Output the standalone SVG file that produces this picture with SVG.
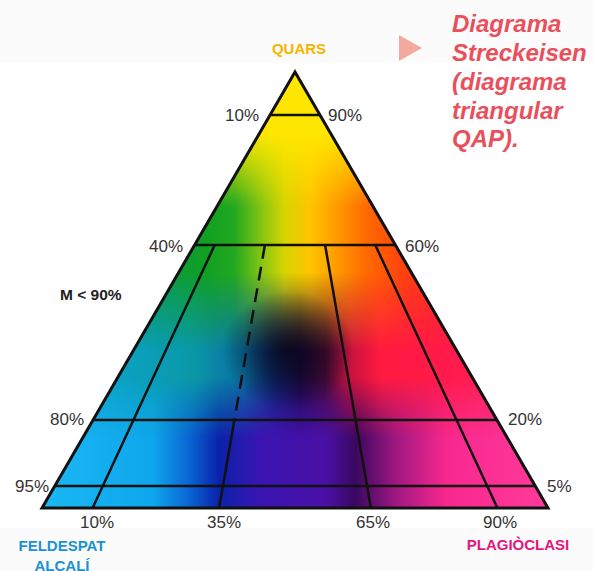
<svg xmlns="http://www.w3.org/2000/svg" width="593" height="571" viewBox="0 0 593 571">
<defs>
<style>
.pct{font-family:"Liberation Sans",Arial,sans-serif;font-size:17px;fill:#333}
.vert{font-family:"Liberation Sans",Arial,sans-serif;font-size:15px;font-weight:bold}
.grid{stroke:#111;stroke-width:2.5;fill:none}
.title{font-family:"Liberation Sans",Arial,sans-serif;font-size:24px;font-weight:bold;font-style:italic;fill:#e9505c}
</style>
<clipPath id="tri"><path d="M295,72 L548,508 L42,508 Z"/></clipPath>
<linearGradient id="gBot" x1="42" y1="0" x2="548" y2="0" gradientUnits="userSpaceOnUse">
<stop offset="0" stop-color="#1ab8f4"/>
<stop offset="0.22" stop-color="#0ea6ec"/>
<stop offset="0.29" stop-color="#0a66d4"/>
<stop offset="0.35" stop-color="#0a22aa"/>
<stop offset="0.43" stop-color="#3a14b2"/>
<stop offset="0.56" stop-color="#4a10a6"/>
<stop offset="0.62" stop-color="#3a0860"/>
<stop offset="0.7" stop-color="#a01882"/>
<stop offset="0.8" stop-color="#f8288e"/>
<stop offset="1" stop-color="#ff3a9a"/>
</linearGradient>
<linearGradient id="gMid" x1="42" y1="0" x2="548" y2="0" gradientUnits="userSpaceOnUse">
<stop offset="0.12" stop-color="#0aa4c8"/>
<stop offset="0.3" stop-color="#0a98a8"/>
<stop offset="0.4" stop-color="#0a6ea0"/>
<stop offset="0.46" stop-color="#0a2a78"/>
<stop offset="0.51" stop-color="#1a0a48"/>
<stop offset="0.56" stop-color="#4a0a38"/>
<stop offset="0.61" stop-color="#c81240"/>
<stop offset="0.67" stop-color="#ff1a40"/>
<stop offset="0.8" stop-color="#ff1a4a"/>
<stop offset="1" stop-color="#ff2a60"/>
</linearGradient>
<linearGradient id="gUp" x1="42" y1="0" x2="548" y2="0" gradientUnits="userSpaceOnUse">
<stop offset="0.24" stop-color="#0a9a40"/>
<stop offset="0.33" stop-color="#12a020"/>
<stop offset="0.38" stop-color="#22a820"/>
<stop offset="0.44" stop-color="#90c810"/>
<stop offset="0.48" stop-color="#d8d400"/>
<stop offset="0.53" stop-color="#ffc400"/>
<stop offset="0.58" stop-color="#ff9c00"/>
<stop offset="0.64" stop-color="#ff6a00"/>
<stop offset="0.72" stop-color="#ff4010"/>
<stop offset="0.8" stop-color="#ff2a20"/>
</linearGradient>
<linearGradient id="vUp" x1="0" y1="72" x2="0" y2="508" gradientUnits="userSpaceOnUse">
<stop offset="0.46" stop-color="#fff"/>
<stop offset="0.64" stop-color="#000"/>
</linearGradient>
<linearGradient id="vMid" x1="0" y1="72" x2="0" y2="508" gradientUnits="userSpaceOnUse">
<stop offset="0.7" stop-color="#fff"/>
<stop offset="0.84" stop-color="#000"/>
</linearGradient>
<linearGradient id="vTop" x1="0" y1="72" x2="0" y2="508" gradientUnits="userSpaceOnUse">
<stop offset="0.14" stop-color="#fff"/>
<stop offset="0.31" stop-color="#000"/>
</linearGradient>
<mask id="mUp" maskUnits="userSpaceOnUse" x="0" y="0" width="593" height="571"><rect width="593" height="571" fill="url(#vUp)"/></mask>
<mask id="mMid" maskUnits="userSpaceOnUse" x="0" y="0" width="593" height="571"><rect width="593" height="571" fill="url(#vMid)"/></mask>
<mask id="mTop" maskUnits="userSpaceOnUse" x="0" y="0" width="593" height="571"><rect width="593" height="571" fill="url(#vTop)"/></mask>
<radialGradient id="gDark" cx="288" cy="350" r="66" gradientUnits="userSpaceOnUse" gradientTransform="translate(288 350) scale(1 0.9) translate(-288 -350)">
<stop offset="0" stop-color="#08040e" stop-opacity="0.78"/>
<stop offset="0.45" stop-color="#08040e" stop-opacity="0.45"/>
<stop offset="1" stop-color="#08040e" stop-opacity="0"/>
</radialGradient>
</defs>
<rect width="593" height="571" fill="#fbfbfb"/>
<rect x="0" y="62" width="593" height="466" fill="#ffffff"/>

<g id="fill" clip-path="url(#tri)">
<rect x="40" y="70" width="510" height="440" fill="url(#gBot)"/>
<rect x="40" y="70" width="510" height="440" fill="url(#gMid)" mask="url(#mMid)"/>
<rect x="40" y="70" width="510" height="440" fill="url(#gUp)" mask="url(#mUp)"/>
<rect x="40" y="70" width="510" height="440" fill="#ffe600" mask="url(#mTop)"/>
<rect x="40" y="70" width="510" height="440" fill="url(#gDark)"/>
</g>

<g id="connectors">
<path class="grid" d="M270.1,115 H319.9 M194.6,245 H395.4 M93.1,420 H496.9 M54.8,486 H535.2"/>
<path class="grid" d="M214.7,245 L92.6,508 M234.4,420 L219.1,508 M325.1,245 L370.9,508 M375.3,245 L497.4,508"/>
<path class="grid" d="M264.9,245 L234.4,420" stroke-dasharray="14 8"/>
</g>
<g id="triangle">
<path d="M295,72 L548,508 L42,508 Z" fill="none" stroke="#111" stroke-width="3" stroke-linejoin="miter"/>
</g>

<g id="labels">
<text class="pct" x="259" y="121" text-anchor="end">10%</text>
<text class="pct" x="328" y="121">90%</text>
<text class="pct" x="183" y="252" text-anchor="end">40%</text>
<text class="pct" x="405" y="252">60%</text>
<text class="pct" x="84" y="425" text-anchor="end">80%</text>
<text class="pct" x="508" y="425">20%</text>
<text class="pct" x="49" y="492" text-anchor="end">95%</text>
<text class="pct" x="547" y="492">5%</text>
<text class="pct" x="97" y="528" text-anchor="middle">10%</text>
<text class="pct" x="224" y="528" text-anchor="middle">35%</text>
<text class="pct" x="373" y="528" text-anchor="middle">65%</text>
<text class="pct" x="500" y="528" text-anchor="middle">90%</text>
<text x="60" y="300" font-family="Liberation Sans, Arial, sans-serif" font-size="15.5" font-weight="bold" fill="#222">M &lt; 90%</text>
</g>

<g id="node-quars"><text class="vert" x="299" y="54" text-anchor="middle" fill="#f7b500">QUARS</text></g>
<g id="node-feldespat"><text class="vert" x="62" y="551" text-anchor="middle" fill="#1a92d2">FELDESPAT<tspan x="62" y="571">ALCALÍ</tspan></text></g>
<g id="node-plagioclasi"><text class="vert" x="518" y="550" text-anchor="middle" fill="#e2187f">PLAGIÒCLASI</text></g>

<g id="title">
<path d="M399,35 L422,48 L399,61 Z" fill="#f4a9a0"/>
<text class="title" x="452" y="32">Diagrama<tspan x="452" y="61">Streckeisen</tspan><tspan x="452" y="90">(diagrama</tspan><tspan x="452" y="119">triangular</tspan><tspan x="452" y="147">QAP).</tspan></text>
</g>
</svg>
